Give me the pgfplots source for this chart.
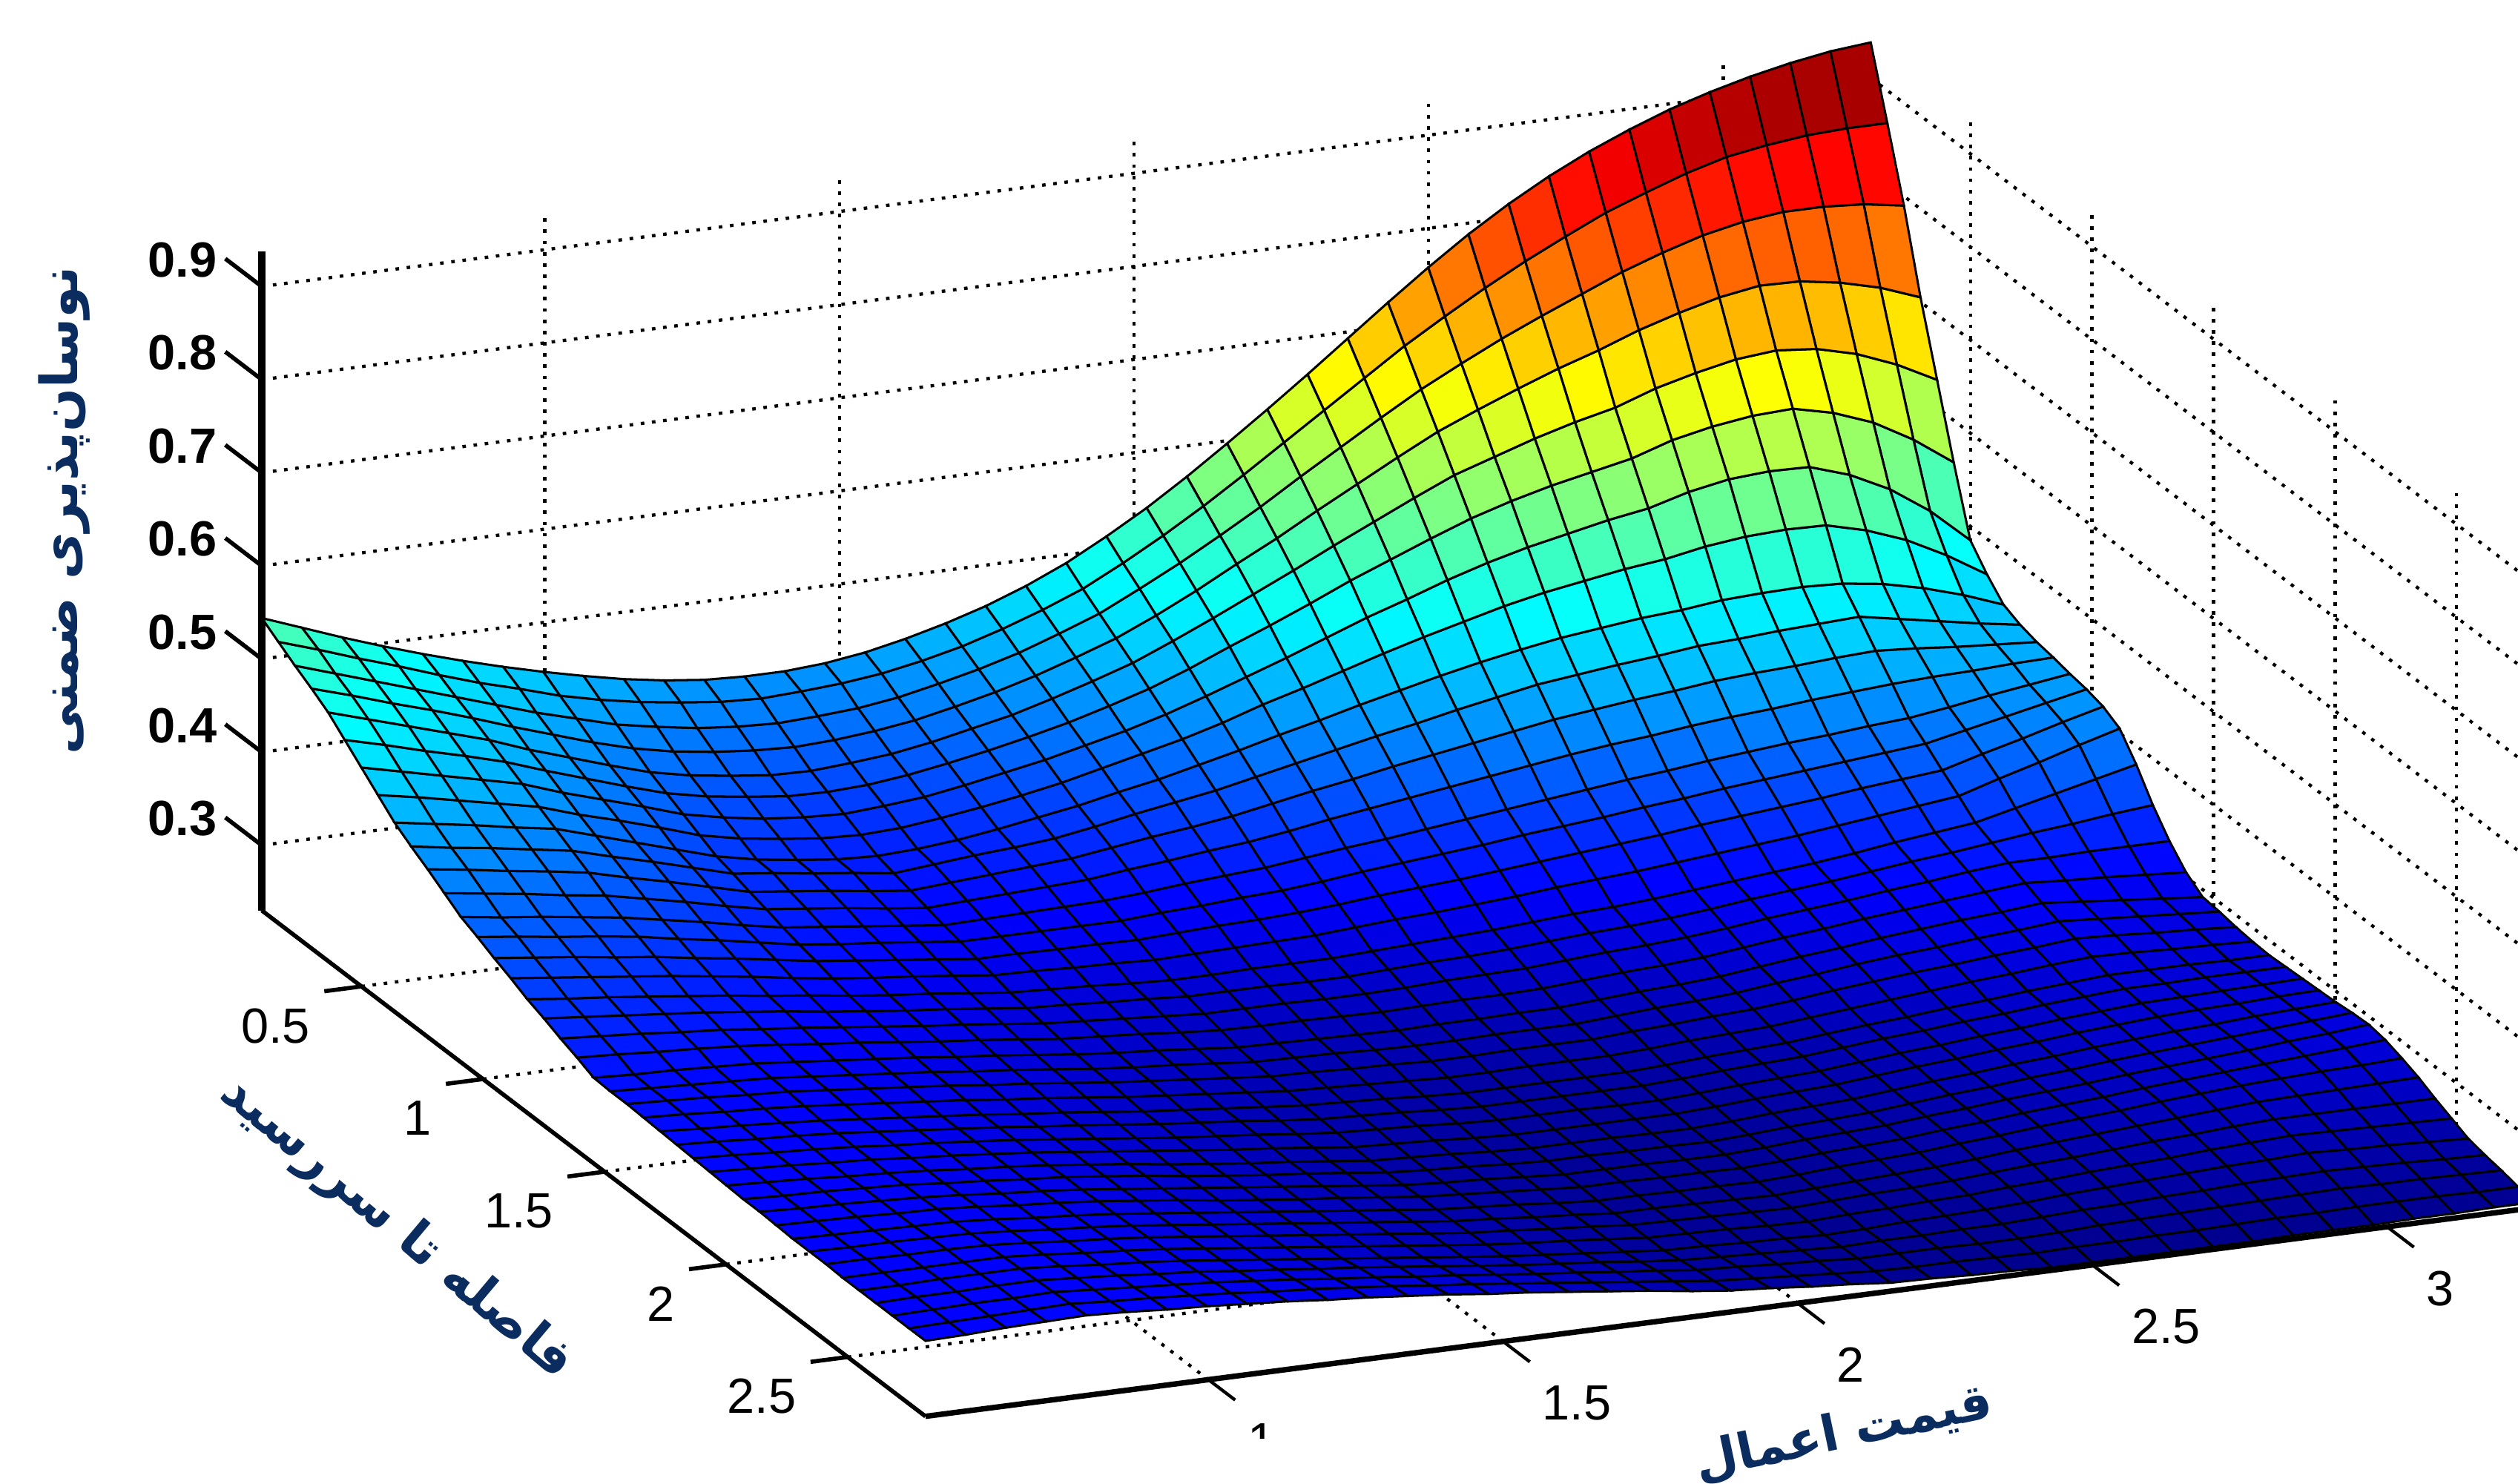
\documentclass[border=0pt]{standalone}
\usepackage{pgfplots}
\pgfplotsset{compat=1.18}
\usepackage{fontspec}
\setmainfont{Liberation Sans}
\TeXXeTstate=1
\newfontfamily\arabicfont[Script=Arabic]{DejaVu Sans}
\definecolor{labelblue}{HTML}{0B2C5F}
\pgfplotsset{colormap={matjet}{rgb=(0,0,.5) rgb=(0,0,1) rgb=(0,.5,1) rgb=(0,1,1) rgb=(.5,1,.5) rgb=(1,1,0) rgb=(1,.5,0) rgb=(1,0,0) rgb=(.5,0,0)}}
\begin{document}
\begin{tikzpicture}
\useasboundingbox (0pt,0pt) rectangle (784pt,462pt);
\clip (0pt,0pt) rectangle (784pt,462pt);
\begin{axis}[
  at={(81.5pt,178.5pt)}, anchor=origin,
  x={(183.5pt,23.8pt)}, y={(-75.7pt,57.7pt)}, z={(0pt,290pt)},
  y dir=reverse,
  xmin=0.52, xmax=3.25, ymin=0.09, ymax=2.82, zmin=0.23, zmax=0.938,
  clip=false,
  axis line style={draw=none},
  tick style={draw=none},
  grid=major,
  grid style={black, line width=1pt, dash pattern=on 1.1pt off 2.4pt},
  xtick={1,1.5,2,2.5,3}, ytick={0.5,1,1.5,2,2.5},
  ztick={0.3,0.4,0.5,0.6,0.7,0.8,0.9},
  xticklabels={1,1.5,2,2.5,3}, yticklabels={0.5,1,1.5,2,2.5},
  zticklabels={0.3,0.4,0.5,0.6,0.7,0.8,0.9},
  tick label style={font=\fontsize{15.4}{16}\selectfont},
  xticklabel style={anchor=north west, xshift=8.7pt, yshift=-10.2pt},
  yticklabel style={anchor=north east, xshift=-12.5pt, yshift=-3.3pt},
  zticklabel style={font=\fontsize{15.4}{16}\selectfont\bfseries, xshift=-10.5pt, yshift=4.5pt},
  colormap name=matjet,
]
\addplot3[surf, shader=faceted, faceted color=black, line width=0.7pt, mesh/rows=41, mesh/cols=41, z buffer=sort, point meta min=0.225, point meta max=0.92]
  table[header=false, x expr={0.52+0.06825*(\coordindex-41*floor((\coordindex+0.5)/41))}, y expr={0.09+0.06825*floor((\coordindex+0.5)/41)}, z index=0] {
0.544
0.528
0.512
0.497
0.483
0.470
0.458
0.447
0.437
0.428
0.421
0.416
0.414
0.414
0.417
0.423
0.432
0.443
0.456
0.472
0.491
0.514
0.539
0.567
0.597
0.628
0.660
0.693
0.726
0.758
0.788
0.815
0.839
0.860
0.878
0.894
0.907
0.918
0.927
0.934
0.938
0.532
0.518
0.503
0.489
0.474
0.460
0.448
0.435
0.425
0.417
0.411
0.406
0.404
0.406
0.409
0.414
0.422
0.432
0.445
0.460
0.477
0.499
0.523
0.549
0.577
0.606
0.635
0.664
0.693
0.719
0.744
0.767
0.788
0.808
0.824
0.839
0.851
0.858
0.863
0.865
0.865
0.520
0.506
0.492
0.478
0.464
0.450
0.436
0.424
0.412
0.404
0.397
0.393
0.391
0.393
0.396
0.402
0.411
0.421
0.433
0.448
0.464
0.485
0.507
0.531
0.556
0.583
0.609
0.635
0.660
0.682
0.703
0.722
0.740
0.758
0.773
0.786
0.795
0.800
0.800
0.797
0.790
0.509
0.496
0.482
0.469
0.455
0.440
0.426
0.412
0.400
0.391
0.385
0.381
0.379
0.381
0.385
0.391
0.400
0.410
0.422
0.436
0.451
0.470
0.491
0.514
0.536
0.560
0.583
0.606
0.628
0.646
0.663
0.679
0.693
0.709
0.722
0.733
0.740
0.739
0.732
0.721
0.705
0.497
0.484
0.471
0.458
0.445
0.429
0.415
0.401
0.388
0.379
0.373
0.368
0.367
0.370
0.374
0.381
0.390
0.399
0.411
0.424
0.438
0.456
0.475
0.495
0.515
0.536
0.556
0.576
0.595
0.609
0.623
0.635
0.645
0.660
0.671
0.680
0.684
0.680
0.669
0.652
0.630
0.481
0.470
0.458
0.447
0.435
0.420
0.406
0.392
0.379
0.370
0.364
0.359
0.358
0.360
0.365
0.372
0.380
0.389
0.399
0.411
0.424
0.440
0.458
0.475
0.493
0.512
0.529
0.546
0.562
0.575
0.586
0.595
0.604
0.618
0.627
0.633
0.635
0.625
0.609
0.585
0.555
0.465
0.455
0.445
0.435
0.425
0.410
0.397
0.384
0.370
0.361
0.354
0.350
0.348
0.351
0.355
0.362
0.370
0.378
0.388
0.398
0.410
0.424
0.439
0.454
0.470
0.486
0.500
0.515
0.528
0.539
0.548
0.557
0.564
0.576
0.584
0.587
0.586
0.572
0.551
0.522
0.485
0.449
0.441
0.432
0.423
0.414
0.400
0.388
0.375
0.361
0.352
0.346
0.341
0.339
0.341
0.346
0.352
0.359
0.367
0.377
0.387
0.397
0.409
0.423
0.435
0.448
0.461
0.473
0.484
0.495
0.504
0.511
0.518
0.523
0.531
0.536
0.538
0.537
0.526
0.510
0.488
0.462
0.433
0.426
0.419
0.411
0.404
0.391
0.378
0.365
0.352
0.343
0.337
0.332
0.330
0.332
0.336
0.342
0.349
0.356
0.365
0.373
0.383
0.393
0.404
0.414
0.425
0.435
0.445
0.454
0.462
0.469
0.474
0.479
0.482
0.487
0.489
0.490
0.488
0.482
0.472
0.459
0.443
0.421
0.414
0.408
0.401
0.394
0.382
0.371
0.359
0.347
0.342
0.336
0.331
0.325
0.329
0.333
0.336
0.340
0.347
0.355
0.362
0.369
0.378
0.387
0.396
0.405
0.413
0.422
0.430
0.438
0.443
0.448
0.452
0.457
0.459
0.462
0.464
0.466
0.458
0.450
0.442
0.435
0.410
0.404
0.397
0.391
0.384
0.373
0.363
0.352
0.341
0.336
0.331
0.325
0.320
0.323
0.326
0.329
0.332
0.338
0.344
0.349
0.355
0.363
0.371
0.378
0.386
0.393
0.400
0.407
0.414
0.419
0.424
0.428
0.433
0.436
0.438
0.441
0.443
0.440
0.436
0.433
0.430
0.398
0.392
0.386
0.379
0.373
0.364
0.355
0.345
0.336
0.331
0.326
0.320
0.315
0.317
0.319
0.321
0.323
0.328
0.332
0.337
0.341
0.347
0.354
0.360
0.366
0.372
0.378
0.384
0.390
0.395
0.399
0.404
0.408
0.411
0.415
0.418
0.421
0.423
0.424
0.426
0.427
0.386
0.380
0.375
0.369
0.363
0.355
0.347
0.338
0.330
0.325
0.320
0.315
0.310
0.311
0.312
0.313
0.314
0.317
0.321
0.324
0.327
0.332
0.337
0.341
0.346
0.351
0.356
0.361
0.366
0.371
0.375
0.380
0.384
0.388
0.391
0.395
0.398
0.404
0.411
0.417
0.423
0.378
0.373
0.367
0.362
0.356
0.348
0.341
0.333
0.325
0.320
0.316
0.311
0.306
0.306
0.306
0.306
0.306
0.309
0.311
0.314
0.316
0.320
0.325
0.329
0.333
0.337
0.342
0.346
0.350
0.355
0.359
0.364
0.368
0.372
0.376
0.380
0.384
0.393
0.402
0.411
0.420
0.369
0.364
0.359
0.353
0.348
0.341
0.335
0.328
0.321
0.316
0.311
0.306
0.301
0.301
0.300
0.300
0.299
0.301
0.303
0.304
0.306
0.309
0.313
0.316
0.319
0.323
0.327
0.331
0.335
0.339
0.344
0.348
0.352
0.356
0.361
0.365
0.369
0.381
0.392
0.404
0.415
0.361
0.356
0.351
0.346
0.341
0.335
0.329
0.322
0.316
0.311
0.307
0.302
0.297
0.296
0.294
0.293
0.291
0.292
0.293
0.294
0.295
0.298
0.301
0.303
0.306
0.309
0.313
0.316
0.319
0.323
0.327
0.331
0.335
0.340
0.345
0.350
0.355
0.368
0.380
0.393
0.405
0.352
0.347
0.343
0.338
0.333
0.328
0.322
0.317
0.311
0.306
0.302
0.297
0.292
0.290
0.288
0.285
0.283
0.283
0.284
0.284
0.284
0.286
0.288
0.290
0.292
0.295
0.298
0.300
0.303
0.307
0.311
0.315
0.319
0.324
0.330
0.335
0.340
0.350
0.360
0.370
0.380
0.345
0.341
0.337
0.333
0.329
0.324
0.319
0.313
0.308
0.303
0.299
0.294
0.289
0.287
0.284
0.282
0.279
0.279
0.279
0.278
0.278
0.280
0.282
0.283
0.285
0.288
0.291
0.293
0.296
0.300
0.305
0.309
0.313
0.318
0.323
0.327
0.332
0.337
0.341
0.346
0.350
0.337
0.334
0.331
0.327
0.324
0.319
0.315
0.310
0.305
0.300
0.296
0.291
0.286
0.283
0.280
0.277
0.274
0.274
0.274
0.273
0.273
0.274
0.276
0.277
0.278
0.281
0.284
0.286
0.289
0.293
0.298
0.302
0.306
0.311
0.315
0.320
0.324
0.324
0.325
0.325
0.325
0.330
0.328
0.325
0.323
0.320
0.316
0.311
0.307
0.302
0.297
0.293
0.288
0.283
0.280
0.277
0.273
0.270
0.269
0.269
0.268
0.267
0.268
0.269
0.269
0.270
0.273
0.276
0.278
0.281
0.286
0.291
0.295
0.300
0.304
0.308
0.312
0.316
0.313
0.311
0.308
0.305
0.322
0.320
0.319
0.317
0.315
0.311
0.307
0.303
0.299
0.294
0.290
0.285
0.280
0.276
0.273
0.269
0.265
0.264
0.263
0.262
0.261
0.262
0.262
0.263
0.263
0.266
0.269
0.271
0.274
0.279
0.284
0.288
0.293
0.297
0.301
0.304
0.308
0.304
0.300
0.296
0.292
0.321
0.319
0.317
0.315
0.313
0.309
0.305
0.301
0.297
0.292
0.288
0.283
0.278
0.274
0.271
0.267
0.263
0.262
0.261
0.259
0.258
0.258
0.259
0.259
0.259
0.262
0.265
0.267
0.270
0.275
0.279
0.284
0.288
0.291
0.295
0.298
0.302
0.299
0.296
0.293
0.290
0.321
0.319
0.317
0.314
0.312
0.308
0.304
0.300
0.296
0.291
0.287
0.282
0.277
0.273
0.269
0.265
0.261
0.260
0.258
0.257
0.255
0.255
0.256
0.256
0.256
0.259
0.261
0.264
0.266
0.270
0.275
0.279
0.283
0.286
0.290
0.293
0.297
0.295
0.292
0.290
0.287
0.320
0.318
0.315
0.313
0.310
0.306
0.302
0.298
0.294
0.289
0.285
0.280
0.275
0.271
0.267
0.263
0.259
0.257
0.255
0.253
0.251
0.251
0.252
0.252
0.252
0.254
0.257
0.259
0.261
0.265
0.269
0.273
0.277
0.281
0.284
0.288
0.291
0.290
0.288
0.287
0.285
0.319
0.316
0.314
0.311
0.308
0.304
0.300
0.296
0.292
0.287
0.283
0.278
0.273
0.269
0.265
0.261
0.257
0.255
0.253
0.250
0.248
0.248
0.248
0.248
0.248
0.250
0.253
0.255
0.257
0.261
0.265
0.268
0.272
0.275
0.279
0.282
0.285
0.285
0.285
0.284
0.284
0.318
0.316
0.313
0.311
0.308
0.304
0.300
0.296
0.292
0.287
0.283
0.278
0.273
0.269
0.265
0.260
0.256
0.254
0.252
0.249
0.247
0.247
0.247
0.247
0.247
0.249
0.252
0.254
0.256
0.260
0.264
0.267
0.271
0.274
0.278
0.281
0.284
0.284
0.285
0.285
0.285
0.317
0.315
0.312
0.310
0.307
0.303
0.300
0.296
0.292
0.287
0.282
0.277
0.272
0.268
0.264
0.259
0.255
0.253
0.251
0.248
0.246
0.246
0.246
0.245
0.245
0.247
0.250
0.252
0.254
0.258
0.262
0.265
0.269
0.272
0.276
0.279
0.282
0.283
0.284
0.285
0.286
0.316
0.314
0.312
0.309
0.307
0.303
0.300
0.296
0.292
0.287
0.282
0.277
0.272
0.267
0.263
0.258
0.253
0.251
0.249
0.246
0.244
0.244
0.244
0.244
0.244
0.246
0.249
0.251
0.253
0.257
0.261
0.264
0.268
0.271
0.275
0.278
0.281
0.283
0.284
0.286
0.287
0.315
0.313
0.311
0.308
0.306
0.303
0.299
0.296
0.292
0.287
0.282
0.276
0.271
0.266
0.262
0.257
0.252
0.250
0.248
0.245
0.243
0.243
0.243
0.242
0.242
0.244
0.247
0.249
0.251
0.255
0.259
0.262
0.266
0.269
0.273
0.276
0.279
0.281
0.284
0.286
0.288
0.314
0.312
0.311
0.309
0.307
0.303
0.300
0.296
0.293
0.288
0.283
0.277
0.272
0.267
0.263
0.258
0.253
0.250
0.248
0.245
0.243
0.243
0.242
0.242
0.241
0.243
0.246
0.248
0.250
0.254
0.258
0.261
0.265
0.268
0.272
0.275
0.278
0.281
0.284
0.287
0.290
0.314
0.312
0.311
0.309
0.307
0.304
0.300
0.297
0.293
0.288
0.283
0.278
0.273
0.268
0.263
0.258
0.253
0.250
0.248
0.245
0.242
0.242
0.242
0.241
0.241
0.243
0.246
0.248
0.250
0.254
0.257
0.261
0.264
0.267
0.271
0.274
0.277
0.280
0.284
0.287
0.291
0.313
0.312
0.311
0.309
0.308
0.305
0.301
0.298
0.294
0.289
0.284
0.278
0.273
0.268
0.264
0.259
0.254
0.251
0.248
0.245
0.242
0.242
0.241
0.241
0.240
0.242
0.245
0.247
0.249
0.253
0.256
0.260
0.263
0.266
0.270
0.273
0.276
0.279
0.282
0.285
0.288
0.312
0.311
0.310
0.309
0.308
0.305
0.301
0.298
0.294
0.289
0.284
0.279
0.274
0.269
0.264
0.259
0.254
0.251
0.248
0.244
0.241
0.241
0.240
0.240
0.239
0.241
0.244
0.246
0.248
0.252
0.255
0.259
0.262
0.265
0.269
0.272
0.275
0.277
0.279
0.280
0.282
0.312
0.311
0.311
0.310
0.309
0.306
0.302
0.299
0.295
0.290
0.285
0.280
0.275
0.270
0.265
0.260
0.255
0.252
0.248
0.245
0.241
0.241
0.240
0.239
0.238
0.240
0.242
0.244
0.246
0.249
0.253
0.256
0.259
0.262
0.265
0.268
0.271
0.272
0.273
0.274
0.275
0.312
0.312
0.311
0.311
0.310
0.307
0.303
0.300
0.296
0.291
0.286
0.281
0.276
0.271
0.266
0.261
0.256
0.253
0.249
0.246
0.242
0.241
0.240
0.239
0.238
0.240
0.242
0.243
0.245
0.248
0.251
0.253
0.256
0.259
0.261
0.264
0.266
0.266
0.266
0.266
0.266
0.311
0.311
0.311
0.311
0.311
0.308
0.304
0.301
0.297
0.292
0.287
0.282
0.277
0.272
0.267
0.262
0.257
0.253
0.250
0.246
0.242
0.241
0.240
0.238
0.237
0.239
0.240
0.242
0.243
0.246
0.248
0.251
0.253
0.255
0.258
0.260
0.262
0.261
0.260
0.259
0.258
0.311
0.311
0.312
0.312
0.312
0.309
0.305
0.302
0.298
0.293
0.288
0.283
0.278
0.273
0.268
0.263
0.258
0.254
0.250
0.246
0.242
0.241
0.239
0.238
0.236
0.237
0.239
0.240
0.241
0.243
0.246
0.248
0.250
0.252
0.254
0.255
0.257
0.255
0.254
0.252
0.250
0.311
0.312
0.312
0.313
0.313
0.310
0.307
0.303
0.300
0.295
0.291
0.286
0.282
0.277
0.272
0.267
0.262
0.258
0.254
0.249
0.245
0.243
0.241
0.239
0.237
0.238
0.238
0.239
0.239
0.241
0.243
0.244
0.246
0.247
0.249
0.250
0.251
0.250
0.249
0.247
0.246
0.311
0.312
0.313
0.313
0.314
0.311
0.308
0.305
0.302
0.298
0.294
0.289
0.285
0.280
0.276
0.271
0.266
0.262
0.257
0.253
0.248
0.246
0.243
0.241
0.238
0.238
0.238
0.237
0.237
0.238
0.240
0.241
0.242
0.243
0.244
0.245
0.246
0.245
0.245
0.244
0.243
0.311
0.312
0.313
0.314
0.315
0.312
0.310
0.307
0.304
0.300
0.297
0.293
0.289
0.284
0.280
0.275
0.270
0.265
0.260
0.255
0.250
0.247
0.244
0.241
0.238
0.237
0.237
0.236
0.235
0.236
0.236
0.237
0.237
0.238
0.239
0.239
0.240
0.240
0.240
0.239
0.239
0.311
0.312
0.314
0.315
0.316
0.314
0.311
0.309
0.306
0.303
0.299
0.296
0.292
0.288
0.283
0.279
0.274
0.269
0.264
0.258
0.253
0.250
0.246
0.243
0.239
0.238
0.236
0.235
0.233
0.233
0.233
0.233
0.233
0.233
0.234
0.234
0.234
0.235
0.235
0.236
0.236
};
\addplot3[black, line width=2.2pt, point meta=none] coordinates {(0.52,0.09,0.23) (0.52,0.09,0.938)};
\addplot3[black, line width=1.3pt, point meta=none] coordinates {(0.52,0.09,0.23) (0.52,2.82,0.23)};
\addplot3[black, line width=1.7pt, point meta=none] coordinates {(0.52,2.82,0.23) (3.25,2.82,0.23)};
\pgfplotsinvokeforeach{1,1.5,2,2.5,3}{
  \addplot3[black, line width=1pt, point meta=none] coordinates {(#1,2.82,0.23) (#1,2.93,0.23)};
}
\pgfplotsinvokeforeach{0.5,1,1.5,2,2.5}{
  \addplot3[black, line width=1.3pt, point meta=none] coordinates {(0.52,#1,0.23) (0.457,#1,0.23)};
}
\pgfplotsinvokeforeach{0.3,0.4,0.5,0.6,0.7,0.8,0.9}{
  \addplot3[black, line width=1.3pt, point meta=none] coordinates {(0.52,0.09,#1) (0.52,-0.06,#1)};
}
\end{axis}
\fill[white] (0pt,0pt) rectangle (784pt,14pt);
\node[rotate=90, text=labelblue, font=\arabicfont\bfseries\fontsize{16}{20}\selectfont] at (20pt,303pt) {\beginR نوسان‌پذیری ضمنی\endR};
\node[rotate=-40, text=labelblue, font=\arabicfont\bfseries\fontsize{16}{20}\selectfont] at (123.5pt,79.5pt) {\beginR فاصله تا سررسید\endR};
\node[rotate=12, text=labelblue, font=\arabicfont\bfseries\fontsize{15.5}{20}\selectfont] at (574pt,15.5pt) {\beginR قیمت اعمال\endR};
\end{tikzpicture}
\end{document}
